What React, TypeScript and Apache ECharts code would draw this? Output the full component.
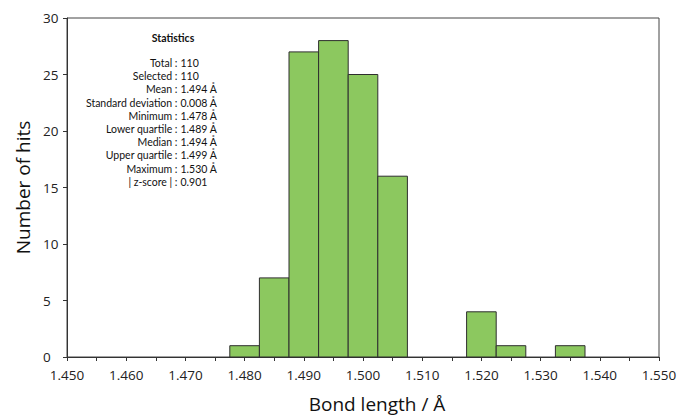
import React, { useEffect, useRef } from "react";
import * as echarts from "echarts";

const binCenters = [1.48, 1.485, 1.49, 1.495, 1.5, 1.505, 1.51, 1.515, 1.52, 1.525, 1.53, 1.535];
const hitCounts = [1, 7, 27, 28, 25, 16, 0, 0, 4, 1, 0, 1];
const binWidth = 0.005;

const statTitle = "Statistics";
const statLabels = [
  "Total",
  "Selected",
  "Mean",
  "Standard deviation",
  "Minimum",
  "Lower quartile",
  "Median",
  "Upper quartile",
  "Maximum",
  "| z-score |",
];
const statValues = [
  "110",
  "110",
  "1.494 Å",
  "0.008 Å",
  "1.478 Å",
  "1.489 Å",
  "1.494 Å",
  "1.499 Å",
  "1.530 Å",
  "0.901",
];

const xName = "Bond length / Å";
const yName = "Number of hits";

export default function App() {
  const ref = useRef<HTMLDivElement>(null);
  useEffect(() => {
    if (!ref.current) return;
    const chart = echarts.init(ref.current, null, { renderer: "svg" });
    const statFont = "Lato, 'Open Sans', sans-serif";
    const graphics: any[] = [
      {
        type: "text",
        x: 173,
        y: 38,
        style: {
          text: statTitle,
          fontFamily: statFont,
          fontSize: 10.5,
          fontWeight: "bold",
          fill: "#111",
          align: "center",
          verticalAlign: "middle",
        },
      },
    ];
    statLabels.forEach((lab, i) => {
      const y = 63 + i * 13.2;
      graphics.push({
        type: "text",
        x: 177.5,
        y,
        style: {
          text: lab + " :",
          fontFamily: statFont,
          fontSize: 10.5,
          fill: "#111",
          align: "right",
          verticalAlign: "middle",
        },
      });
      graphics.push({
        type: "text",
        x: 180.5,
        y,
        style: {
          text: statValues[i],
          fontFamily: statFont,
          fontSize: 10.5,
          fill: "#111",
          align: "left",
          verticalAlign: "middle",
        },
      });
    });

    const option: any = {
      animation: false,
      backgroundColor: "#ffffff",
      grid: {
        left: 67,
        top: 18,
        right: 21,
        bottom: 55,
        show: true,
        borderColor: "#444",
        borderWidth: 1,
        backgroundColor: "transparent",
      },
      xAxis: {
        type: "value",
        min: 1.45,
        max: 1.55,
        interval: 0.005,
        name: xName,
        nameLocation: "middle",
        nameGap: 37,
        nameTextStyle: {
          fontFamily: "'Open Sans', sans-serif",
          fontSize: 19,
          color: "#111",
          padding: [0, 0, 0, 28],
        },
        axisLine: { show: true, lineStyle: { color: "#333", width: 1 } },
        axisTick: { show: true, length: 4, lineStyle: { color: "#333" } },
        splitLine: { show: false },
        axisLabel: {
          margin: 11,
          fontFamily: "'Open Sans', sans-serif",
          fontSize: 13.5,
          color: "#222",
          showMinLabel: true,
          showMaxLabel: true,
          formatter: (v: number) => {
            const k = Math.round(v * 1000);
            return k % 10 === 0 ? (k / 1000).toFixed(3) : "";
          },
        },
      },
      yAxis: {
        type: "value",
        min: 0,
        max: 30,
        interval: 5,
        name: yName,
        nameLocation: "middle",
        nameGap: 33,
        nameRotate: 90,
        nameTextStyle: {
          fontFamily: "'Open Sans', sans-serif",
          fontSize: 19,
          color: "#111",
        },
        axisLine: { show: true, lineStyle: { color: "#333", width: 1 } },
        axisTick: { show: true, length: 4, lineStyle: { color: "#333" } },
        splitLine: { show: false },
        axisLabel: {
          margin: 24,
          align: "left",
          fontFamily: "'Open Sans', sans-serif",
          fontSize: 13.5,
          color: "#222",
        },
      },
      series: [
        {
          type: "custom",
          data: binCenters.map((c, i) => [c, hitCounts[i]]),
          renderItem: (params: any, api: any) => {
            const c = api.value(0);
            const n = api.value(1);
            if (!n) return null;
            const p0 = api.coord([c - binWidth / 2, n]);
            const p1 = api.coord([c + binWidth / 2, 0]);
            return {
              type: "rect",
              shape: { x: p0[0], y: p0[1], width: p1[0] - p0[0], height: p1[1] - p0[1] },
              style: { fill: "#8cc85f", stroke: "#2e2e2e", lineWidth: 1 },
            };
          },
        },
      ],
      graphic: graphics,
    };
    chart.setOption(option);
    return () => chart.dispose();
  }, []);
  return <div ref={ref} style={{ width: 680, height: 418, position: "fixed", left: 0, top: 0 }} />;
}
